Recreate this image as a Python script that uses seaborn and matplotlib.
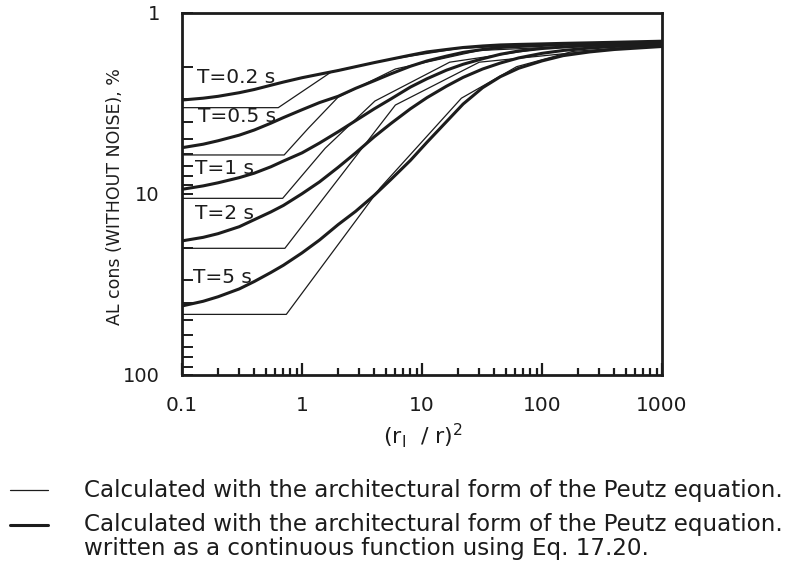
import matplotlib
matplotlib.use("Agg")
import matplotlib.pyplot as plt
import matplotlib.ticker as mticker
from matplotlib.lines import Line2D
import numpy as np
import pandas as pd
import seaborn as sns

# ---------------- data ----------------
T_labels = ["T=0.2 s", "T=0.5 s", "T=1 s", "T=2 s", "T=5 s"]

# thin lines: architectural form of the Peutz equation (piecewise)
thin_x_02 = [0.1, 0.634, 1.77, 5, 20, 100, 1000]
thin_y_02 = [3.35, 3.35, 2.12, 1.83, 1.58, 1.50, 1.45]
thin_x_05 = [0.1, 0.71, 1.13, 2.0, 6, 30, 1000]
thin_y_05 = [6.11, 6.11, 4.35, 2.93, 2.05, 1.62, 1.46]
thin_x_1 = [0.1, 0.69, 1.56, 4.05, 17, 100, 1000]
thin_y_1 = [10.6, 10.6, 5.61, 3.08, 1.88, 1.58, 1.47]
thin_x_2 = [0.1, 0.72, 6.0, 30, 1000]
thin_y_2 = [20.0, 20.0, 3.24, 1.88, 1.49]
thin_x_5 = [0.1, 0.74, 4.47, 21.3, 61.5, 180, 1000]
thin_y_5 = [46.3, 46.3, 9.3, 2.97, 1.99, 1.64, 1.51]

# thick lines: continuous function (Eq. 17.20)
thick_x = [0.1, 0.15, 0.2, 0.3, 0.4, 0.55, 0.7, 1, 1.4, 2, 2.8, 4, 5.5, 8, 11,
           16, 22, 32, 45, 64, 100, 150, 250, 400, 1000]
thick_y_02 = [3.04, 2.97, 2.90, 2.77, 2.66, 2.52, 2.42, 2.29, 2.19, 2.09, 1.99, 1.89, 1.81,
              1.72, 1.65, 1.60, 1.56, 1.53, 1.51, 1.50, 1.49, 1.48, 1.47, 1.46, 1.44]
thick_y_05 = [5.57, 5.33, 5.10, 4.75, 4.45, 4.08, 3.80, 3.44, 3.14, 2.90, 2.62, 2.38, 2.18,
              1.98, 1.85, 1.74, 1.66, 1.60, 1.56, 1.54, 1.52, 1.50, 1.49, 1.48, 1.46]
thick_y_1 = [9.45, 9.05, 8.70, 8.15, 7.70, 7.10, 6.60, 5.95, 5.25, 4.55, 3.95, 3.40, 3.00,
             2.58, 2.32, 2.08, 1.93, 1.80, 1.70, 1.63, 1.58, 1.55, 1.52, 1.50, 1.48]
thick_y_2 = [18.2, 17.4, 16.6, 15.2, 13.9, 12.6, 11.6, 10.0, 8.6, 7.15, 5.95, 4.85, 4.1,
             3.40, 2.95, 2.55, 2.28, 2.05, 1.90, 1.78, 1.68, 1.62, 1.57, 1.54, 1.50]
thick_y_5 = [41.6, 39.2, 37.0, 33.5, 30.5, 27.2, 24.8, 21.2, 18.0, 14.8, 12.5, 10.2, 8.35,
             6.55, 5.2, 4.0, 3.2, 2.6, 2.26, 2.03, 1.85, 1.73, 1.65, 1.60, 1.54]

x_ticks = [0.1, 1, 10, 100, 1000]
x_ticklabels = ["0.1", "1", "10", "100", "1000"]
y_ticks = [1, 10, 100]
y_ticklabels = ["1", "10", "100"]

legend_texts = [
    "Calculated with the architectural form of the Peutz equation.",
    "Calculated with the architectural form of the Peutz equation.",
    "written as a continuous function using Eq. 17.20.",
]

# ---------------- build tables ----------------
thin_sets = [(thin_x_02, thin_y_02), (thin_x_05, thin_y_05), (thin_x_1, thin_y_1),
             (thin_x_2, thin_y_2), (thin_x_5, thin_y_5)]
thick_sets = [thick_y_02, thick_y_05, thick_y_1, thick_y_2, thick_y_5]

rows = []
for lab, (xs, ys) in zip(T_labels, thin_sets):
    for xv, yv in zip(xs, ys):
        rows.append({"x": xv, "y": yv, "T": lab})
df_thin = pd.DataFrame(rows)
rows = []
for lab, ys in zip(T_labels, thick_sets):
    for xv, yv in zip(thick_x, ys):
        rows.append({"x": xv, "y": yv, "T": lab})
df_thick = pd.DataFrame(rows)

# ---------------- style ----------------
sns.set_theme(style="white")
plt.rcParams["font.family"] = ["DejaVu Sans"]
plt.rcParams["mathtext.default"] = "regular"
INK = "#1c1c1c"

fig = plt.figure(figsize=(7.91, 5.69), dpi=100)
W, H = 791, 569
ax_l, ax_r, ax_t, ax_b = 182, 662, 12.5, 375
ax = fig.add_axes([ax_l / W, 1 - ax_b / H, (ax_r - ax_l) / W, (ax_b - ax_t) / H])

sns.lineplot(data=df_thin, x="x", y="y", units="T", estimator=None, sort=False,
             color=INK, linewidth=0.9, ax=ax, legend=False)
sns.lineplot(data=df_thick, x="x", y="y", units="T", estimator=None, sort=False,
             color=INK, linewidth=2.2, ax=ax, legend=False)

ax.set_xscale("log")
ax.set_yscale("log")
ax.set_xlim(0.1, 1000)
ax.set_ylim(100, 1)

ax.xaxis.set_major_locator(mticker.FixedLocator(x_ticks))
ax.xaxis.set_major_formatter(mticker.FixedFormatter(x_ticklabels))
ax.xaxis.set_minor_locator(mticker.LogLocator(base=10, subs=np.arange(2, 10)))
ax.xaxis.set_minor_formatter(mticker.NullFormatter())
ax.yaxis.set_major_locator(mticker.FixedLocator(y_ticks))
ax.yaxis.set_major_formatter(mticker.FixedFormatter(y_ticklabels))
ax.yaxis.set_minor_locator(mticker.LogLocator(base=10, subs=np.arange(2, 10)))
ax.yaxis.set_minor_formatter(mticker.NullFormatter())

ax.tick_params(axis="x", which="major", direction="in", length=9, width=1.6,
               bottom=True, top=False, pad=15, labelsize=14.5, colors=INK)
ax.tick_params(axis="x", which="minor", direction="in", length=5, width=1.6,
               bottom=True, top=False, colors=INK)
ax.tick_params(axis="y", which="major", direction="in", length=8, width=1.4,
               left=True, right=False, pad=16, labelsize=14, colors=INK)
ax.tick_params(axis="y", which="minor", direction="in", length=8, width=1.4,
               left=True, right=False, colors=INK)

for s in ax.spines.values():
    s.set_linewidth(2.0)
    s.set_color(INK)

ax.set_xlabel("")
ax.set_ylabel("AL cons (WITHOUT NOISE), %", fontsize=12.5, color=INK)
ax.yaxis.set_label_coords((124 - ax_l) / (ax_r - ax_l), (ax_b - 197) / (ax_b - ax_t))

# T labels
label_pos = [(197, 77.7), (198, 116.7), (195, 168.3), (195, 213.3), (193, 277.3)]
for lab, (px, py) in zip(T_labels, label_pos):
    ax.text((px - ax_l) / (ax_r - ax_l), (ax_b - py) / (ax_b - ax_t), lab,
            transform=ax.transAxes, ha="left", va="center", fontsize=14.5, color=INK)

# x axis label
fig.text(423 / W, 1 - 436 / H, "(r$_l$  / r)$^2$", ha="center", va="center",
         fontsize=16, color=INK)

# legend (drawn manually below the axes)
fig.add_artist(Line2D([10 / W, 48 / W], [1 - 490 / H] * 2, transform=fig.transFigure,
                      color=INK, linewidth=0.9))
fig.add_artist(Line2D([10 / W, 48 / W], [1 - 525 / H] * 2, transform=fig.transFigure,
                      color=INK, linewidth=2.2))
fig.text(84 / W, 1 - 490 / H, legend_texts[0], ha="left", va="center", fontsize=16.6, color=INK)
fig.text(84 / W, 1 - 525 / H, legend_texts[1], ha="left", va="center", fontsize=16.6, color=INK)
fig.text(84 / W, 1 - 549 / H, legend_texts[2], ha="left", va="center", fontsize=16.6, color=INK)

fig.savefig("out.png", dpi=100)
